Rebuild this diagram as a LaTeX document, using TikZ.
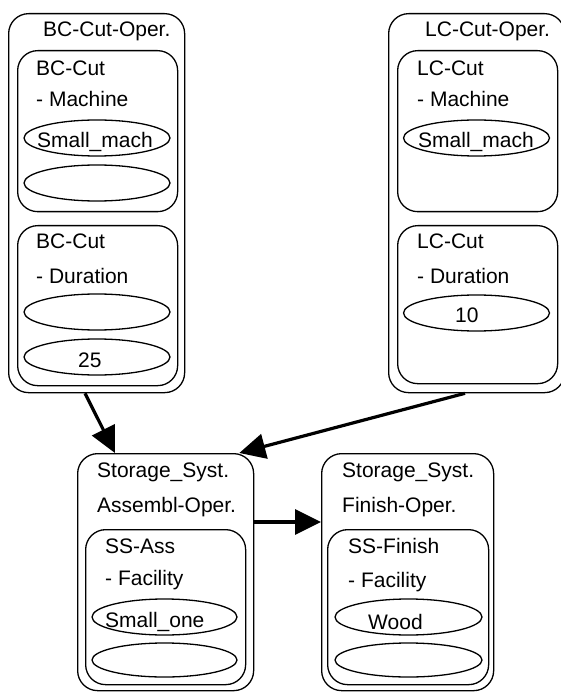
\documentclass[tikz,border=0pt]{standalone}
\usepackage{fontspec}
\setmainfont{Liberation Sans}
\usetikzlibrary{shapes.geometric,arrows.meta}
\begin{document}
\begin{tikzpicture}[x=1pt,y=-1pt,
  box/.style={draw,line width=1.3pt,rounded corners=20pt,inner sep=0pt,anchor=north west},
  ell/.style={draw,line width=1.3pt,ellipse,inner sep=0pt,minimum width=146pt,minimum height=36pt},
  txt/.style={anchor=base west,inner sep=0pt,font=\fontsize{21}{24}\selectfont},
  arr/.style={line width=3.2pt,-{Triangle[length=26pt,width=25pt]}}]
\useasboundingbox (0,0) rectangle (561,692);
% BC-Cut-Oper.
\node[box,minimum width=176pt,minimum height=379pt] (bcop) at (8,13) {};
\node[box,minimum width=160pt,minimum height=161pt] (bcm) at (17,50) {};
\node[box,minimum width=160pt,minimum height=160pt] (bcd) at (17,225) {};
\node[txt] (t1) at (43,37) {BC-Cut-Oper.};
\node[txt] (t2) at (36,76) {BC-Cut};
\node[txt] (t3) at (36,107) {- Machine};
\node[ell] (e1) at (97,138) {};
\node[txt] (t4) at (37,148) {Small\_mach};
\node[ell] (e2) at (97,183) {};
\node[txt] (t5) at (36,249) {BC-Cut};
\node[txt] (t6) at (36,283) {- Duration};
\node[ell] (e3) at (97,312) {};
\node[ell] (e4) at (97,357) {};
\node[txt] (t7) at (78,367) {25};
% LC-Cut-Oper.
\node[box,minimum width=176pt,minimum height=379pt] (lcop) at (388,13) {};
\node[box,minimum width=160pt,minimum height=161pt] (lcm) at (397,50) {};
\node[box,minimum width=160pt,minimum height=158pt] (lcd) at (397,225) {};
\node[txt] (u1) at (425,37) {LC-Cut-Oper.};
\node[txt] (u2) at (417,76) {LC-Cut};
\node[txt] (u3) at (417,107) {- Machine};
\node[ell] (f1) at (476.5,138) {};
\node[txt] (u4) at (418,148) {Small\_mach};
\node[txt] (u5) at (417,249) {LC-Cut};
\node[txt] (u6) at (417,283) {- Duration};
\node[ell] (f2) at (476.5,313) {};
\node[txt] (u7) at (455,322) {10};
% Storage_Syst. Assembl-Oper.
\node[box,minimum width=176pt,minimum height=237pt] (ssa) at (77,453) {};
\node[box,minimum width=160pt,minimum height=155pt] (ssai) at (85,529) {};
\node[txt] (v1) at (97,477) {Storage\_Syst.};
\node[txt] (v2) at (97,512) {Assembl-Oper.};
\node[txt] (v3) at (105,553) {SS-Ass};
\node[txt] (v4) at (105,585) {- Facility};
\node[ell,minimum width=145pt] (g1) at (164.5,617) {};
\node[txt] (v5) at (105,627) {Small\_one};
\node[ell,minimum width=145pt,minimum height=34pt] (g2) at (164.5,660) {};
% Storage_Syst. Finish-Oper.
\node[box,minimum width=172pt,minimum height=237pt] (fin) at (321,453) {};
\node[box,minimum width=161pt,minimum height=155pt] (fini) at (327,529) {};
\node[txt] (w1) at (342,477) {Storage\_Syst.};
\node[txt] (w2) at (342,512) {Finish-Oper.};
\node[txt] (w3) at (348,553) {SS-Finish};
\node[txt] (w4) at (348,587) {- Facility};
\node[ell,minimum width=147pt] (h1) at (408.5,617) {};
\node[txt] (w5) at (368,629) {Wood};
\node[ell,minimum width=147pt,minimum height=34pt] (h2) at (408.5,660) {};
% connectors
\draw[arr] ([xshift=77pt]bcop.south west) -- ([xshift=38pt]ssa.north west);
\draw[arr] ([xshift=77pt]lcop.south west) -- ([xshift=-15pt]ssa.north east);
\draw[arr] ([yshift=-69pt]ssa.north east) -- ([yshift=-69pt]fin.north west);
\end{tikzpicture}
\end{document}
